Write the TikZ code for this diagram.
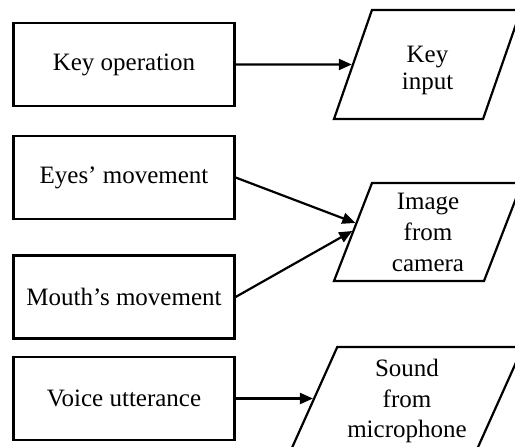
\documentclass[tikz,border=0pt]{standalone}
\usepackage{fontspec}
\setmainfont{Liberation Serif}
\usetikzlibrary{arrows.meta,shapes.geometric,calc}

\begin{document}
\begin{tikzpicture}[x=1pt,y=1pt,font=\fontsize{25}{30.5}\selectfont,line width=2.2pt,
  act/.style={draw,minimum width=221pt,minimum height=83pt,inner sep=0pt},
  data/.style={draw,trapezium,trapezium stretches body,align=center,inner sep=0pt},
  flow/.style={-{Triangle[length=13pt,width=11pt]}}]
\useasboundingbox (0,0) rectangle (515,447);
% user actions
\node[act] (key) at (124,382.5) {Key operation};
\node[act] (eyes) at (124,269.5) {Eyes’ movement};
\node[act] (mouth) at (124,150) {Mouth’s movement};
\node[act] (voice) at (124,48.5) {Voice utterance};
% input data, the text box fixes the height of each shape
\node[data,font=\fontsize{25}{27}\selectfont,text height=80pt,text depth=29pt,
  trapezium left angle=70.8,trapezium right angle=109.2,minimum width=187pt] (keyin) at (427.5,382.5) {Key\\input};
\node[data,font=\fontsize{25}{31}\selectfont,text height=89pt,text depth=9pt,
  trapezium left angle=68.8,trapezium right angle=111.2,minimum width=188pt] (img) at (428,215) {Image\\from\\camera};
\node[data,text height=91pt,text depth=12pt,
  trapezium left angle=65.8,trapezium right angle=114.2,minimum width=232pt] (snd) at (407,48.5) {Sound\\from\\microphone};
% arrows
\draw[flow] (key) -- (keyin);
\draw[flow] (eyes.east) -- ($(img.top left corner)!.41!(img.bottom left corner)$);
\draw[flow] (mouth.east) -- ($(img.top left corner)!.49!(img.bottom left corner)$);
\draw[flow] (voice) -- (snd);
\end{tikzpicture}
\end{document}
